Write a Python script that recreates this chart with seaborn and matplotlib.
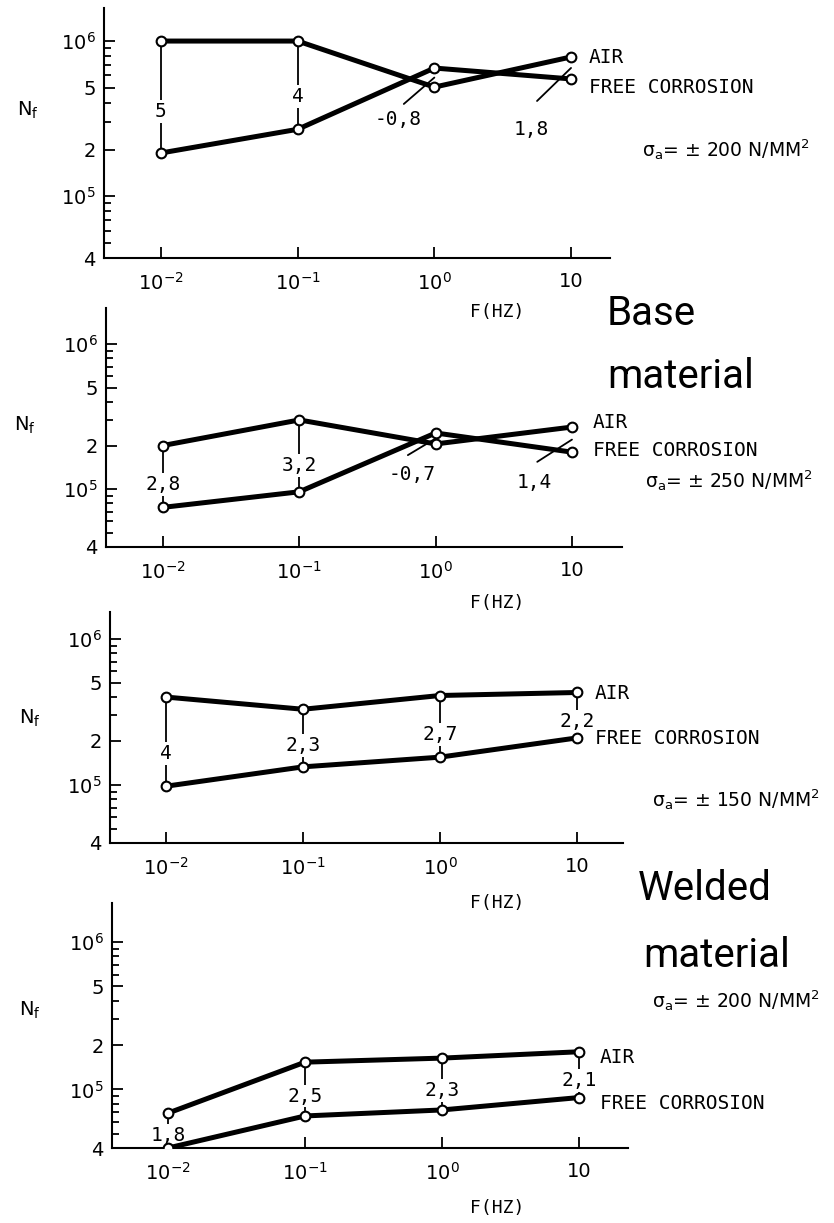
#!/usr/bin/env python3
# -*- coding: utf-8 -*-
"""Fatigue life N_f vs. loading frequency, base and welded material (air / free corrosion)."""

import numpy as np
import pandas as pd
import matplotlib
matplotlib.use('Agg')
import matplotlib.pyplot as plt
from matplotlib.ticker import NullLocator
import seaborn as sns

sns.set_style('ticks')
plt.rcParams['font.family'] = ['DejaVu Sans']
plt.rcParams['mathtext.fontset'] = 'dejavusans'
for key in ['text.color', 'axes.labelcolor', 'xtick.color', 'ytick.color', 'axes.edgecolor']:
    plt.rcParams[key] = 'black'

W, H = 834, 1223
MONO = 'DejaVu Sans Mono'

# --- data ---
FREQ = [1e-2, 1e-1, 1e0, 1e1]
XTICK_LABELS = ['$10^{-2}$', '$10^{-1}$', '$10^{0}$', '10']
Y_MAJOR = [4e4, 1e5, 2e5, 5e5, 1e6]
Y_LABELS = ['4', '$10^5$', '2', '5', '$10^6$']
Y_MINOR = [5e4, 6e4, 7e4, 8e4, 9e4, 3e5, 4e5, 6e5, 7e5, 8e5, 9e5]

BASE200_AIR = [1.0e6, 1.0e6, 5.05e5, 7.9e5]
BASE200_FC = [1.9e5, 2.7e5, 6.7e5, 5.7e5]
BASE250_AIR = [2.0e5, 3.0e5, 2.05e5, 2.68e5]
BASE250_FC = [7.5e4, 9.6e4, 2.44e5, 1.8e5]
WELD150_AIR = [4.0e5, 3.3e5, 4.1e5, 4.3e5]
WELD150_FC = [9.8e4, 1.33e5, 1.55e5, 2.1e5]
WELD200_AIR = [6.9e4, 1.53e5, 1.63e5, 1.8e5]
WELD200_FC = [4.0e4, 6.6e4, 7.25e4, 8.8e4]

RATIO_1 = ['5', '4', '-0,8', '1,8']
RATIO_2 = ['2,8', '3,2', '-0,7', '1,4']
RATIO_3 = ['4', '2,3', '2,7', '2,2']
RATIO_4 = ['1,8', '2,5', '2,3', '2,1']
STRESS = ['200', '250', '150', '200']

SERIES = [(BASE200_AIR, BASE200_FC, RATIO_1),
          (BASE250_AIR, BASE250_FC, RATIO_2),
          (WELD150_AIR, WELD150_FC, RATIO_3),
          (WELD200_AIR, WELD200_FC, RATIO_4)]

# --- layout (pixels) ---
BOXES = [(104, 8, 610, 258), (106, 308, 622, 547),
         (110, 612, 623, 843), (112, 903, 628, 1148)]  # left, top, right, bottom
XLIM_EXP = [(-2.417, 1.285), (-2.418, 1.367), (-2.409, 1.336), (-2.409, 1.358)]
YTOP_EXP = [6.213, 6.248, 6.185, 6.265]
FLABEL_Y = [312, 603, 903, 1208]
NF_POS = [(28, 110), (25, 425), (30, 718), (30, 1010)]
SIGMA_POS = [(642, 157), (645, 488), (652, 807), (652, 1008)]
END_LABEL_OFF = [((13, -0.7), (13, -6.5)), ((15, 3), (15, 1.5)),
                 ((13, -0.7), (13, -0.7)), ((15, -4.3), (15, -4.3))]
# slanted leaders: (start offset, text offset) in points from the pair's mid point
LEADERS = {(0, 2): ((-22, -19), (-26, -30)),
           (0, 3): ((-24.5, -23.8), (-29, -44)),
           (1, 2): ((-20, -12), (-17, -26)),
           (1, 3): ((-25, -16), (-27, -31))}


def px_rect(box):
    l, t, r, b = box
    return [l / W, 1 - b / H, (r - l) / W, (b - t) / H]


fig = plt.figure(figsize=(W / 100, H / 100), dpi=100)

for i, (air, fc, ratio) in enumerate(SERIES):
    l, t, r, b = BOXES[i]
    ax = fig.add_axes(px_rect(BOXES[i]))
    ax.set_facecolor('none')
    ax.set_xscale('log')
    ax.set_yscale('log')

    df = pd.DataFrame({'freq': FREQ * 2, 'Nf': air + fc,
                       'cond': ['AIR'] * 4 + ['FREE CORROSION'] * 4})
    sns.lineplot(data=df, x='freq', y='Nf', hue='cond', palette=['black', 'black'],
                 estimator=None, lw=3.6, marker='o', ms=7, mfc='white', mec='black',
                 mew=1.5, legend=False, ax=ax, zorder=3)

    # ratio annotations
    for j, (x, a, f, lab) in enumerate(zip(FREQ, air, fc, ratio)):
        if (i, j) in LEADERS:
            (sx, sy), (tx, ty) = LEADERS[(i, j)]
            anchor = (x, np.sqrt(a * f))
            ax.annotate('', xy=anchor, xytext=(sx, sy), textcoords='offset points',
                        arrowprops=dict(arrowstyle='-', lw=1.3, color='black',
                                        shrinkA=0, shrinkB=0))
            ax.annotate(lab, xy=anchor, xytext=(tx, ty), textcoords='offset points',
                        ha='center', va='center', fontsize=14, family=MONO)
        else:
            ax.plot([x, x], [a, f], color='black', lw=1.3, zorder=2)
            ymid = a ** 0.37 * f ** 0.63
            ax.text(x, ymid, lab, ha='center', va='center', fontsize=14, family=MONO,
                    zorder=2.5,
                    bbox=dict(boxstyle='square,pad=0.1', fc='white', ec='none'))

    # end labels
    (adx, ady), (fdx, fdy) = END_LABEL_OFF[i]
    ax.annotate('AIR', xy=(FREQ[-1], air[-1]), xytext=(adx, ady),
                textcoords='offset points', ha='left', va='center',
                fontsize=14, family=MONO)
    ax.annotate('FREE CORROSION', xy=(FREQ[-1], fc[-1]), xytext=(fdx, fdy),
                textcoords='offset points', ha='left', va='center',
                fontsize=14, family=MONO)

    # axes
    ax.set_xlim(10 ** XLIM_EXP[i][0], 10 ** XLIM_EXP[i][1])
    ax.set_ylim(4e4, 10 ** YTOP_EXP[i])
    sns.despine(ax=ax)
    for s in ['left', 'bottom']:
        ax.spines[s].set_linewidth(1.5)
    ax.set_xticks(FREQ)
    ax.set_xticklabels(XTICK_LABELS)
    ax.xaxis.set_minor_locator(NullLocator())
    ax.set_yticks(Y_MAJOR)
    ax.set_yticklabels(Y_LABELS)
    ax.set_yticks(Y_MINOR, minor=True)
    ax.tick_params(axis='both', which='major', direction='in', length=8,
                   width=1.3, labelsize=14, pad=6)
    ax.tick_params(axis='x', which='major', pad=10)
    ax.tick_params(axis='y', which='minor', direction='in', length=5, width=1.3,
                   labelleft=False)
    ax.plot(1, 0, '>k', ms=7, transform=ax.get_yaxis_transform(), clip_on=False)
    ax.plot(0, 1, '^k', ms=7, transform=ax.get_xaxis_transform(), clip_on=False)

    ax.set_ylabel('')
    ax.set_xlabel('F(HZ)', family=MONO, fontsize=13)
    ax.xaxis.label.set_va('center')
    ax.xaxis.set_label_coords((497 - l) / (r - l), -(FLABEL_Y[i] - b) / (b - t))

    nx, ny = NF_POS[i]
    fig.text(nx / W, 1 - ny / H, r'$\mathrm{N_f}$', ha='center', va='center', fontsize=14)
    sx, sy = SIGMA_POS[i]
    fig.text(sx / W, 1 - sy / H, r'$\mathrm{\sigma_a}$= $\pm$ ' + STRESS[i] + ' N/MM$^2$',
             ha='left', va='baseline', fontsize=13.5)

# material titles
for txt, x, y in [('Base', 607, 325), ('material', 607, 388),
                  ('Welded', 638, 900), ('material', 643, 967)]:
    fig.text(x / W, 1 - y / H, txt, ha='left', va='baseline', fontsize=29,
             family='Roboto')

fig.savefig('out.png', dpi=100, facecolor='white')
